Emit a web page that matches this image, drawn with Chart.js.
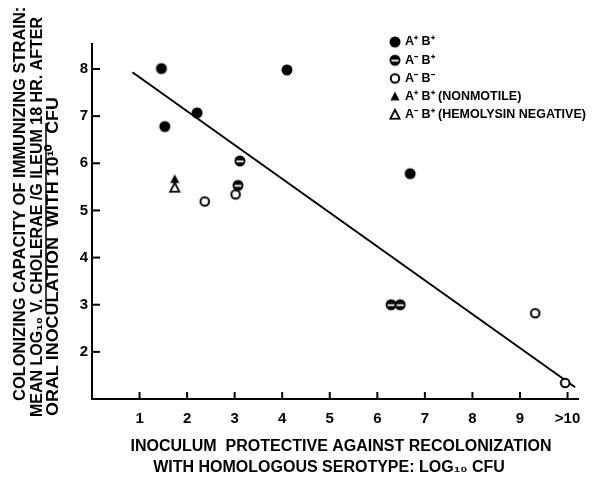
<!DOCTYPE html>
<html>
<head>
<meta charset="utf-8">
<script src="https://cdn.jsdelivr.net/npm/chart.js@4.4.1/dist/chart.umd.min.js"></script>
<style>
  html, body { margin: 0; padding: 0; background: #fff; }
</style>
</head>
<body>
<canvas id="chart" width="592" height="480"></canvas>
<script>
// values
const xTicks = [1, 2, 3, 4, 5, 6, 7, 8, 9, 10];
const xTickLabels = ["1", "2", "3", "4", "5", "6", "7", "8", "9", ">10"];
const yTicks = [2, 3, 4, 5, 6, 7, 8];

const aPlusBPlus = [{x: 1.46, y: 8.01}, {x: 4.10, y: 7.98}, {x: 2.21, y: 7.07}, {x: 1.53, y: 6.78}, {x: 6.69, y: 5.78}];
const aMinusBPlus = [{x: 3.11, y: 6.05}, {x: 3.07, y: 5.53}, {x: 6.29, y: 3.0}, {x: 6.48, y: 3.0}];
const aMinusBMinus = [{x: 3.02, y: 5.34}, {x: 2.37, y: 5.19}, {x: 9.32, y: 2.82}, {x: 9.95, y: 1.34}];
const nonmotile = [{x: 1.74, y: 5.66}];
const hemolysinNeg = [{x: 1.74, y: 5.48}];
const fitLine = [{x: 0.85, y: 7.93}, {x: 10.16, y: 1.25}];

const legendLabels = ["A⁺ B⁺", "A⁻ B⁺", "A⁻ B⁻", "A⁺ B⁺ (NONMOTILE)", "A⁻ B⁺ (HEMOLYSIN NEGATIVE)"];
const legendKinds = ["filled", "half", "open", "tri", "otri"];

const yTitle = [
  "COLONIZING CAPACITY OF IMMUNIZING STRAIN:",
  ["MEAN LOG₁₀ ", "V. CHOLERAE /G ILEUM", " 18 HR. AFTER"],
  "ORAL INOCULATION  WITH 10¹⁰  CFU"
];
const xTitle = ["INOCULUM  PROTECTIVE AGAINST RECOLONIZATION", "WITH HOMOLOGOUS SEROTYPE: LOG₁₀ CFU"];

const titleFont = 'bold 16px "Liberation Sans Narrow", "Liberation Sans", sans-serif';

function makeMarker(kind) {
  const c = document.createElement("canvas");
  c.width = 14; c.height = 14;
  const g = c.getContext("2d");
  const m = 7;
  g.fillStyle = "#000";
  g.strokeStyle = "#000";
  g.lineWidth = 2;
  if (kind === "filled" || kind === "half") {
    g.beginPath(); g.arc(m, m, 5.5, 0, Math.PI * 2); g.fill();
    if (kind === "half") {
      g.fillStyle = "#fff";
      g.fillRect(m - 3.5, m - 0.5, 7, 1.8);
    }
  } else if (kind === "open") {
    g.beginPath(); g.arc(m, m, 4.3, 0, Math.PI * 2);
    g.fillStyle = "#fff"; g.fill(); g.stroke();
  } else {
    g.beginPath();
    g.moveTo(m, m - 5); g.lineTo(m + 4.6, m + 3.8); g.lineTo(m - 4.6, m + 3.8); g.closePath();
    if (kind === "tri") {
      g.fill();
    } else {
      g.fillStyle = "#fff"; g.lineWidth = 1.8; g.fill(); g.stroke();
    }
  }
  return c;
}

const markers = {};
legendKinds.forEach(k => markers[k] = makeMarker(k));

const decor = {
  id: "decor",
  afterDraw(chart) {
    const ctx = chart.ctx;
    const xs = chart.scales.x, ys = chart.scales.y;
    const area = chart.chartArea;
    ctx.save();
    ctx.strokeStyle = "#000";
    ctx.lineWidth = 2;
    // inward tick marks
    xTicks.forEach(v => {
      const px = xs.getPixelForValue(v);
      ctx.beginPath(); ctx.moveTo(px, area.bottom); ctx.lineTo(px, area.bottom - 7); ctx.stroke();
    });
    yTicks.forEach(v => {
      const py = ys.getPixelForValue(v);
      ctx.beginPath(); ctx.moveTo(area.left, py); ctx.lineTo(area.left + 8, py); ctx.stroke();
    });

    // x title
    ctx.fillStyle = "#000";
    ctx.font = titleFont;
    ctx.textAlign = "center";
    ctx.textBaseline = "middle";
    ctx.fillText(xTitle[0], 341, 447);
    ctx.fillText(xTitle[1], 329, 468);

    // y title (rotated, reads bottom to top)
    ctx.textAlign = "left";
    ctx.save();
    ctx.translate(21, 401); ctx.rotate(-Math.PI / 2); ctx.scale(1.03, 1);
    ctx.fillText(yTitle[0], 0, 0);
    ctx.restore();

    ctx.save();
    ctx.translate(38, 417); ctx.rotate(-Math.PI / 2);
    let off = 0;
    yTitle[1].forEach((part, i) => {
      ctx.fillText(part, off, 0);
      const w = ctx.measureText(part).width;
      if (i === 1) {
        ctx.lineWidth = 1.5;
        ctx.beginPath(); ctx.moveTo(off, 8); ctx.lineTo(off + w + 6, 8); ctx.stroke();
      }
      off += w;
    });
    ctx.restore();

    ctx.save();
    ctx.translate(54, 416); ctx.rotate(-Math.PI / 2); ctx.scale(1.12, 1);
    ctx.fillText(yTitle[2], 0, 0);
    ctx.restore();

    // legend
    ctx.font = 'bold 12.5px "Liberation Sans", sans-serif';
    legendLabels.forEach((lab, i) => {
      const y = 42 + i * 18.2;
      const mk = markers[legendKinds[i]];
      ctx.drawImage(mk, 395 - mk.width / 2, y - mk.height / 2);
      ctx.fillText(lab, 405, y);
    });
    ctx.restore();
  }
};

new Chart(document.getElementById("chart"), {
  type: "scatter",
  data: {
    datasets: [
      { label: "A+ B+", data: aPlusBPlus, pointStyle: markers.filled },
      { label: "A- B+", data: aMinusBPlus, pointStyle: markers.half },
      { label: "A- B-", data: aMinusBMinus, pointStyle: markers.open },
      { label: "A+ B+ (nonmotile)", data: nonmotile, pointStyle: markers.tri },
      { label: "A- B+ (hemolysin negative)", data: hemolysinNeg, pointStyle: markers.otri },
      {
        type: "line", label: "fit", data: fitLine,
        borderColor: "#000", borderWidth: 2, pointRadius: 0, fill: false
      }
    ]
  },
  options: {
    responsive: false,
    devicePixelRatio: 1,
    animation: false,
    clip: false,
    layout: { padding: { top: 44, right: 14, left: 0, bottom: 0 } },
    plugins: { legend: { display: false }, tooltip: { enabled: false } },
    scales: {
      x: {
        type: "linear", min: 0, max: 10.22,
        afterBuildTicks: s => { s.ticks = xTicks.map(v => ({ value: v })); },
        afterFit: s => { s.height = 81; },
        ticks: {
          autoSkip: false, maxRotation: 0, padding: 11, color: "#000",
          font: { family: "Liberation Sans", weight: "bold", size: 15 },
          callback: v => xTickLabels[xTicks.indexOf(v)]
        },
        grid: { display: false, drawTicks: false },
        border: { display: true, color: "#000", width: 2 }
      },
      y: {
        type: "linear", min: 1, max: 8.53,
        afterBuildTicks: s => { s.ticks = yTicks.map(v => ({ value: v })); },
        afterFit: s => { s.width = 92; },
        ticks: {
          padding: 4, color: "#000",
          font: { family: "Liberation Sans", weight: "bold", size: 15 }
        },
        grid: { display: false, drawTicks: false },
        border: { display: true, color: "#000", width: 2 }
      }
    }
  },
  plugins: [decor]
});
</script>
</body>
</html>
